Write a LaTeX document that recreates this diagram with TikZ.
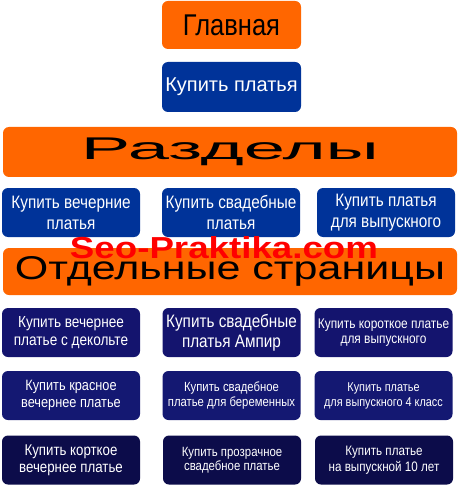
\documentclass[tikz,border=0pt]{standalone}
\usepackage{fontspec}
\setmainfont{Liberation Sans}
\newfontfamily\narrowfont[FakeStretch=0.85]{Liberation Sans}
\usepackage{graphicx}
\definecolor{orangebox}{RGB}{255,102,0}
\definecolor{bluebox}{RGB}{0,51,153}
\definecolor{navyA}{RGB}{20,20,110}
\definecolor{navyB}{RGB}{20,24,114}
\definecolor{navyC}{RGB}{12,12,74}
\definecolor{wmred}{RGB}{255,0,0}
\tikzset{
    MyBox/.style={rounded corners=6pt,inner sep=0pt,align=center},
    OrangeBox/.style={MyBox,fill=orangebox,text=black},
    BlueBox/.style={MyBox,fill=bluebox,text=white,minimum width=138pt,minimum height=49pt},
    NavyBox/.style={MyBox,text=white,minimum width=138pt,minimum height=49pt}    }

\begin{document}
\begin{tikzpicture}[x=1pt,y=-1pt]
    \useasboundingbox (0,0) rectangle (460,486);
    \def\wide{454}% width of the orange bars
    \def\rowtwo{212.5}% centre of the blue row

    % main page
    \node[OrangeBox,minimum width=139pt,minimum height=48pt,
      font=\narrowfont\fontsize{30}{32}\selectfont] (glavnaya) at (231.5,25) {Главная};
    \node[BlueBox,minimum width=139pt,minimum height=50pt,
      font=\fontsize{20}{22}\selectfont] (kupit) at (231.5,87) {Купить платья};

    % sections
    \node[OrangeBox,minimum width=\wide pt,minimum height=50pt] (razdely) at (230,152)
      {\resizebox{298pt}{21.6pt}{Разделы}};
    \foreach \cx/\nm/\txt in {71/secA/{Купить вечерние\\платья},
                              231/secB/{Купить свадебные\\платья},
                              386/secC/{Купить платья\\для выпускного}}
        \node[BlueBox,font=\narrowfont\fontsize{18}{21}\selectfont] (\nm) at (\cx,\rowtwo) {\txt};

    % single pages
    \node[OrangeBox,minimum width=\wide pt,minimum height=47pt] (otdelnye) at (230,271.5)
      {\resizebox{430pt}{23pt}{Отдельные страницы}};
    \node[text=wmred,anchor=base,inner sep=0pt] (watermark) at (224,258)
      {\resizebox{308pt}{22pt}{\bfseries Seo-Praktika.com}};

    \foreach \cx/\cy/\nm/\fsz/\lsk/\clr/\txt in {
        71/332.5/pA/16/18/navyA/{Купить вечернее\\платье с декольте},
        231.5/332.5/pB/18/20/navyA/{Купить свадебные\\платья Ампир},
        383.5/332.5/pC/14/15/navyA/{Купить короткое платье\\для выпускного},
        71/395.5/pD/15/17/navyB/{Купить красное\\вечернее платье},
        231.5/395.5/pE/13.3/14.5/navyB/{Купить свадебное\\платье для беременных},
        383.5/395.5/pF/12.8/15/navyB/{Купить платье\\для выпускного 4 класс},
        71/460/pG/15.6/16.5/navyC/{Купить корткое\\вечернее платье},
        232/460/pH/13.4/14.5/navyC/{Купить прозрачное\\свадебное платье},
        384/460/pI/13.7/16/navyC/{Купить платье\\на выпускной 10 лет}}
        \node[NavyBox,fill=\clr,font=\narrowfont\fontsize{\fsz}{\lsk}\selectfont] (\nm) at (\cx,\cy) {\txt};
\end{tikzpicture}
\end{document}
